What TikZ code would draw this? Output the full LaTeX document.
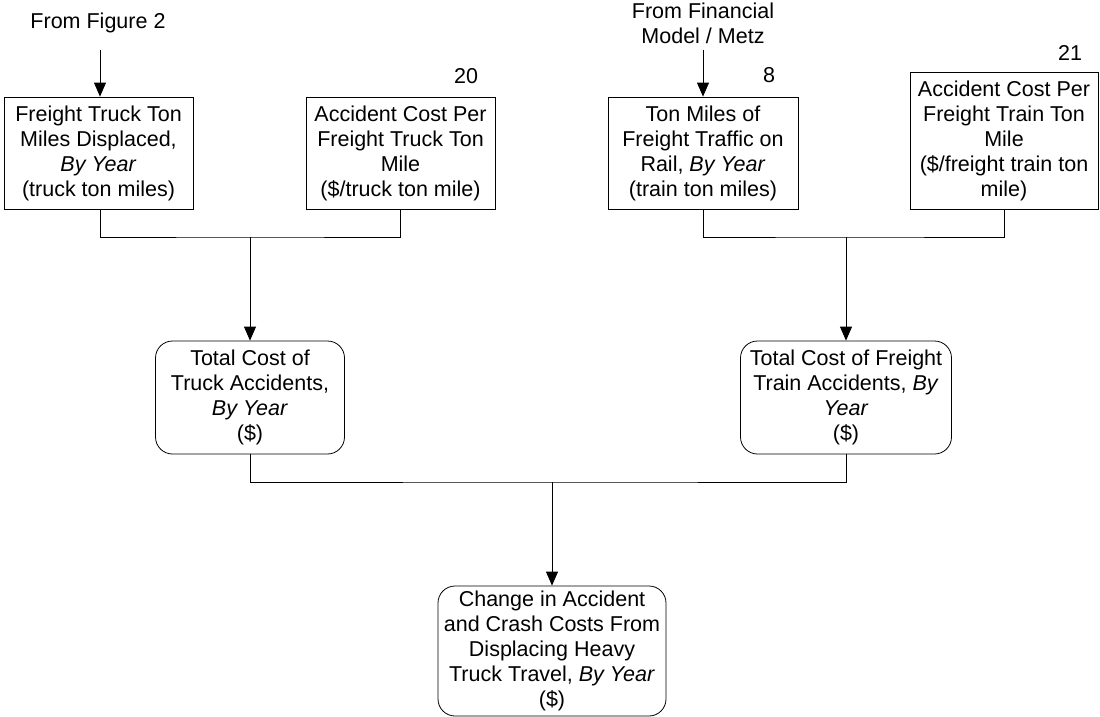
\documentclass[tikz,border=0pt]{standalone}
\usepackage{fontspec}
\setmainfont{Liberation Sans}
\usetikzlibrary{arrows.meta}
\begin{document}
\begin{tikzpicture}[x=1pt,y=-1pt,
  txt/.style={font=\fontsize{21.5}{25}\selectfont, align=center, inner sep=0pt},
  sqbox/.style={txt, draw, line width=0.8pt, rectangle},
  rbox/.style={txt, draw, line width=0.8pt, rectangle, rounded corners=17pt},
  link/.style={line width=0.8pt},
  flow/.style={line width=0.8pt, -{Triangle[length=14pt,width=12pt]}}]
\useasboundingbox (0,0) rectangle (1100,717);

% input boxes
\node[sqbox, minimum width=189pt, minimum height=112pt] (A) at (98.5,153)
  {Freight Truck Ton\\Miles Displaced,\\\textit{By Year}\\(truck ton miles)};
\node[sqbox, minimum width=189pt, minimum height=112pt] (B) at (400.5,153)
  {Accident Cost Per\\Freight Truck Ton\\Mile\\(\$/truck ton mile)};
\node[sqbox, minimum width=190pt, minimum height=112pt] (C) at (703,153)
  {Ton Miles of\\Freight Traffic on\\Rail, \textit{By Year}\\(train ton miles)};
\node[sqbox, minimum width=188pt, minimum height=137pt] (D) at (1004,140.5)
  {Accident Cost Per\\Freight Train Ton\\Mile\\(\$/freight train ton\\mile)};

% reference numbers
\node[txt] (n20) at (466,76) {20};
\node[txt] (n8) at (769,75) {8};
\node[txt] (n21) at (1070,53) {21};

% external sources
\node[txt] (src1) at (98,23) {From Figure 2};
\node[txt] (src2) at (703,23) {From Financial\\Model / Metz};
\coordinate (s1) at (100,50);
\coordinate (s2) at (703,50);

% intermediate and result boxes
\node[rbox, minimum width=189pt, minimum height=113pt] (E) at (250,397.5)
  {Total Cost of\\Truck Accidents,\\\textit{By Year}\\(\$)};
\node[rbox, minimum width=211pt, minimum height=113pt] (F) at (846,397.5)
  {Total Cost of Freight\\Train Accidents, \textit{By}\\\textit{Year}\\(\$)};
\node[rbox, minimum width=228pt, minimum height=130pt] (G) at (552,651)
  {Change in Accident\\and Crash Costs From\\Displacing Heavy\\Truck Travel, \textit{By Year}\\(\$)};

% junctions
\coordinate (j1) at (250,237);
\coordinate (j2) at (846,237);
\coordinate (j3) at (552,482);

% connectors
\draw[flow] (s1) -- (s1 |- A.north);
\draw[flow] (s2) -- (C.north);
\draw[link] (A.south -| s1) |- (j1) -| (B.south);
\draw[flow] (j1) -- (E.north);
\draw[link] (C.south) |- (j2) -| (D.south);
\draw[flow] (j2) -- (F.north);
\draw[link] (E.south) |- (j3) -| (F.south);
\draw[flow] (j3) -- (G.north);
\end{tikzpicture}
\end{document}
